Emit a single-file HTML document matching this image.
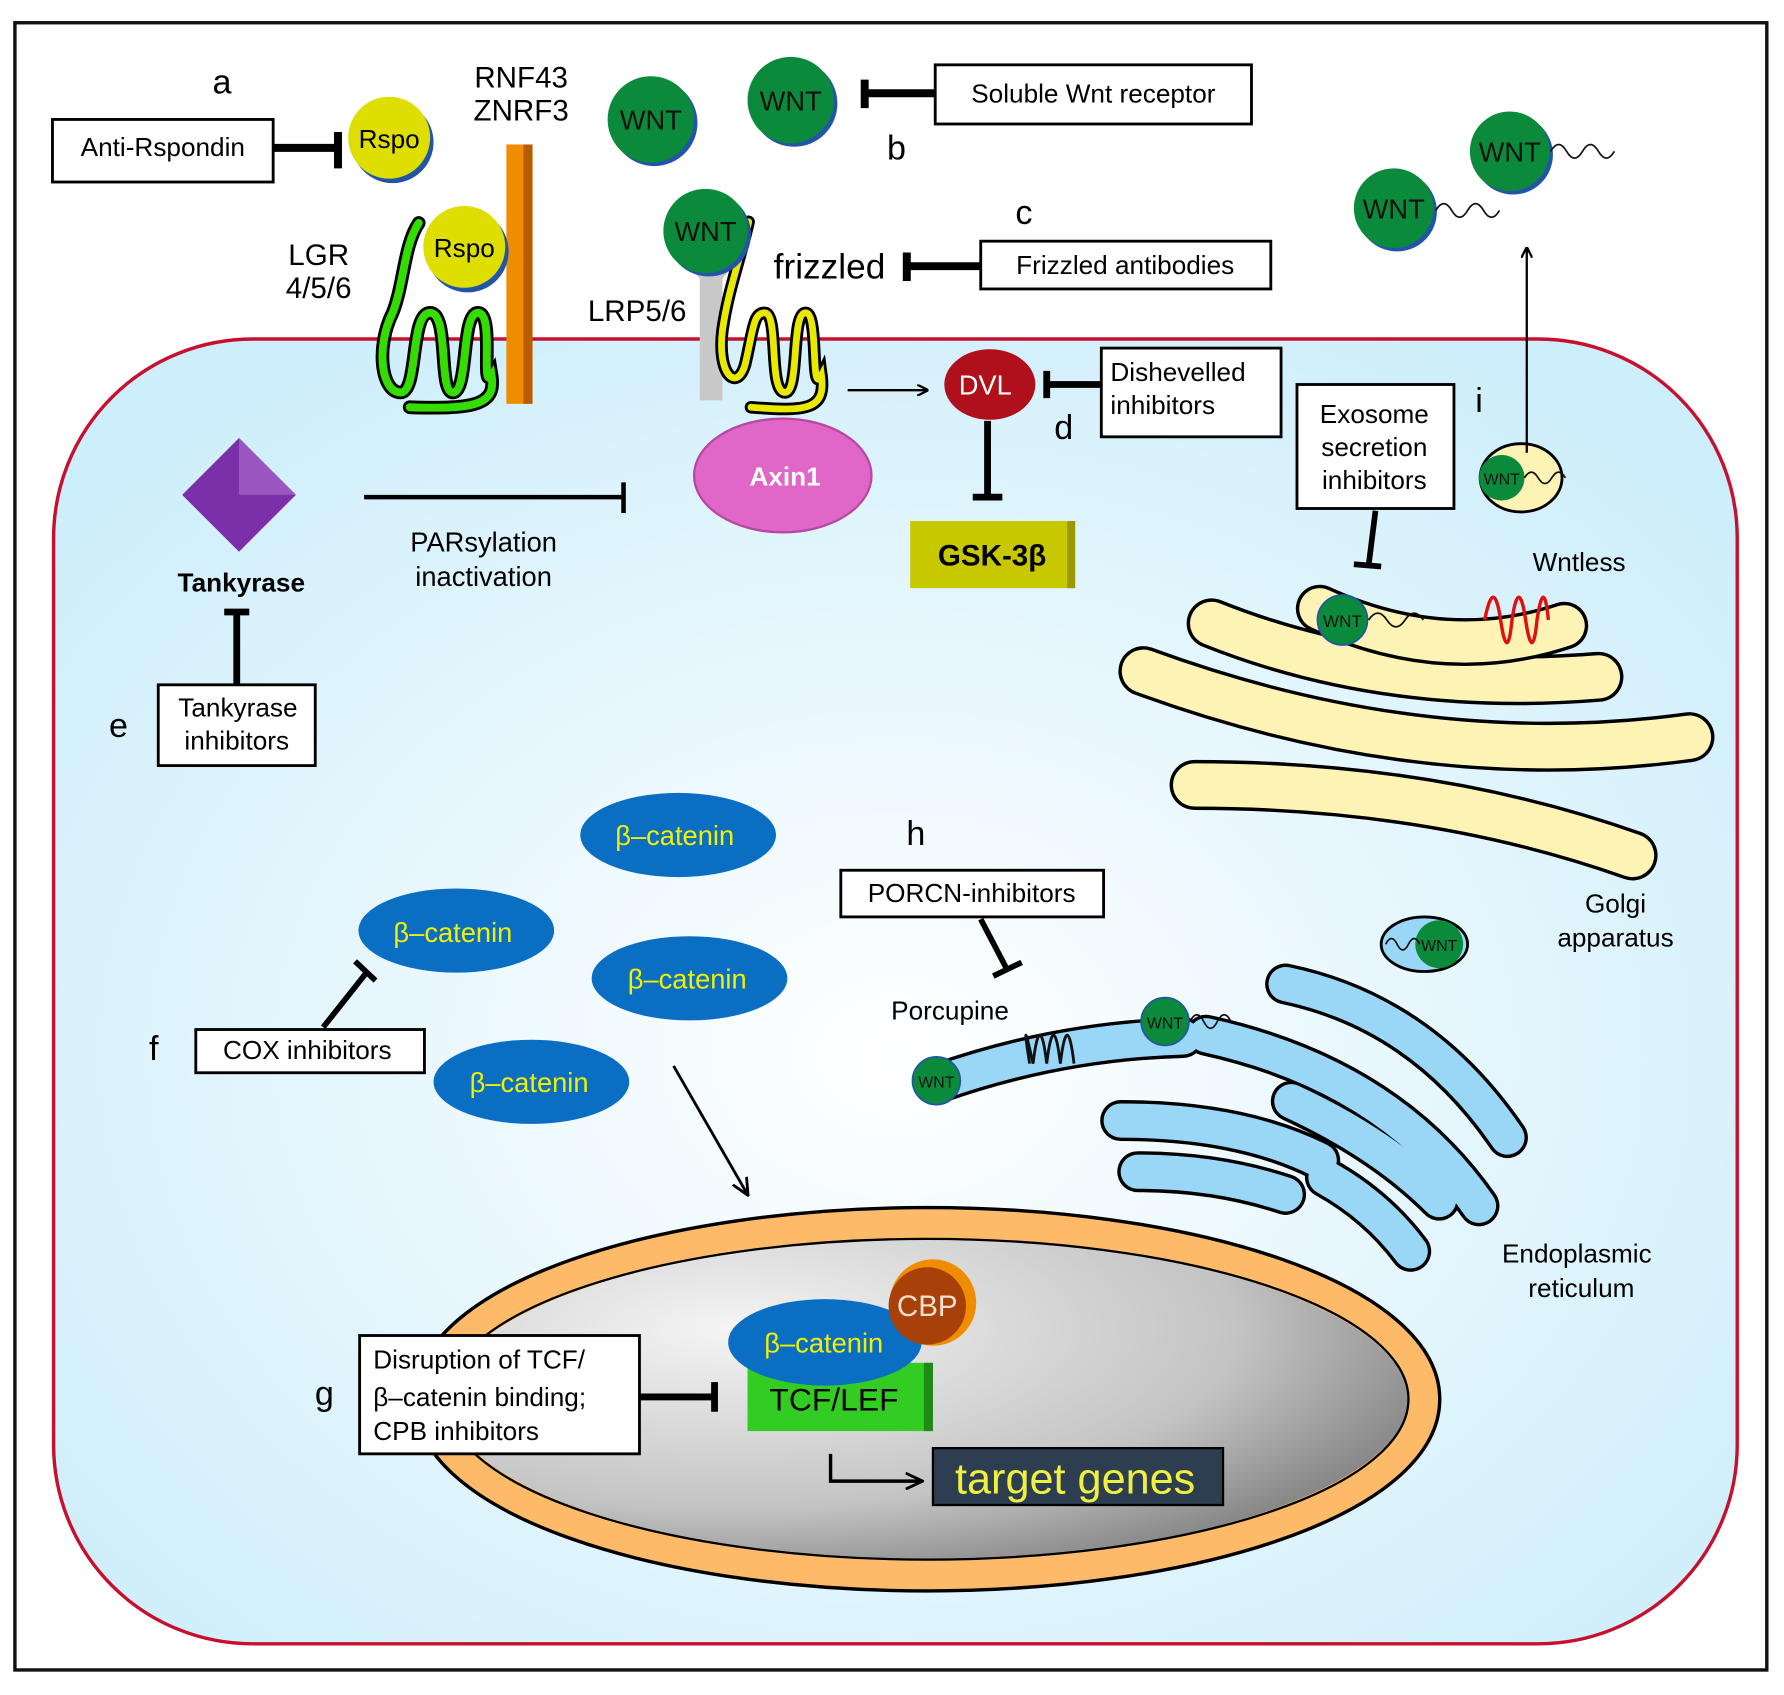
<!DOCTYPE html>
<html><head><meta charset="utf-8"><style>
html,body{margin:0;padding:0;background:#fff}
svg{display:block}
text{font-family:"Liberation Sans",sans-serif}
</style></head><body>
<svg width="1784" height="1695" viewBox="0 0 1568 1490" xmlns="http://www.w3.org/2000/svg">
<defs>
<radialGradient id="cell" cx="0.5" cy="0.55" r="0.65">
<stop offset="0" stop-color="#ffffff"/><stop offset="1" stop-color="#cdeefb"/></radialGradient>
<radialGradient id="nuc" cx="0.3" cy="0.3" r="0.85">
<stop offset="0" stop-color="#f4f4f4"/><stop offset="0.6" stop-color="#c4c4c4"/><stop offset="1" stop-color="#6e6e6e"/></radialGradient>
<marker id="ah" markerWidth="10" markerHeight="10" refX="9" refY="5" orient="auto" markerUnits="userSpaceOnUse"><path d="M0,0 L10,5 L0,10" fill="none" stroke="#000" stroke-width="2"/></marker>
<marker id="ah2" markerWidth="16" markerHeight="16" refX="14" refY="8" orient="auto" markerUnits="userSpaceOnUse"><path d="M0,1 L15,8 L0,15" fill="none" stroke="#000" stroke-width="2.5"/></marker>
</defs>
<rect x="0" y="0" width="1568" height="1490" fill="#fff"/>
<rect x="13" y="20" width="1540" height="1448" fill="#fff" stroke="#111" stroke-width="3"/>
<rect x="47" y="298" width="1480" height="1147" rx="175" ry="175" fill="url(#cell)" stroke="#c8102e" stroke-width="3"/>

<g fill="none" stroke-linecap="round">
<g stroke="#000" stroke-width="44">
<path d="M1005,590 Q1250,680 1485,648"/>
<path d="M1050,690 Q1260,690 1435,752"/>
<path d="M1065,548 Q1220,610 1405,595"/>
</g>
<g stroke="#fdf3b4" stroke-width="38">
<path d="M1005,590 Q1250,680 1485,648"/>
<path d="M1050,690 Q1260,690 1435,752"/>
<path d="M1065,548 Q1220,610 1405,595"/>
</g>
<path d="M1160,535 Q1270,585 1375,550" stroke="#000" stroke-width="42"/>
<path d="M1160,535 Q1270,585 1375,550" stroke="#fdf3b4" stroke-width="36"/>
</g>
<circle cx="1180" cy="545" r="22" fill="#0a8a3a" stroke="#2255aa" stroke-width="1.5"/>
<text x="1180" y="551" font-size="15" text-anchor="middle" fill="#111">WNT</text>
<path d="M1203,545 q8,-12 16,0 q8,12 16,0 q8,-12 16,0" fill="none" stroke="#111" stroke-width="1.5"/>
<path d="M1305,545 q8,-40 14,0 q6,40 10,0 q6,-40 12,0 q6,40 10,0 q6,-40 10,0" fill="none" stroke="#e01010" stroke-width="3"/>

<g fill="none" stroke-linecap="round">
<g stroke="#000" stroke-width="36">
<path d="M825,952 Q930,915 1040,912"/>
<path d="M1130,865 Q1250,890 1325,1000"/>
<path d="M1060,910 Q1220,945 1300,1060"/>
<path d="M1135,968 Q1215,1005 1265,1055"/>
<path d="M985,985 Q1090,985 1160,1020"/>
<path d="M1000,1030 Q1070,1030 1130,1050"/>
<path d="M1165,1035 Q1210,1060 1240,1100"/>
</g>
<g stroke="#9ad7f7" stroke-width="30">
<path d="M825,952 Q930,915 1040,912"/>
<path d="M1130,865 Q1250,890 1325,1000"/>
<path d="M1060,910 Q1220,945 1300,1060"/>
<path d="M1135,968 Q1215,1005 1265,1055"/>
<path d="M985,985 Q1090,985 1160,1020"/>
<path d="M1000,1030 Q1070,1030 1130,1050"/>
<path d="M1165,1035 Q1210,1060 1240,1100"/>
</g>
</g>
<path d="M905,935 q-8,-50 3,0 q6,-50 12,0 q6,-50 12,0 q6,-50 12,0" fill="none" stroke="#111" stroke-width="2.5"/>
<circle cx="823" cy="950" r="21" fill="#0a8a3a" stroke="#2255aa" stroke-width="1.5"/>
<text x="823" y="956" font-size="14" text-anchor="middle" fill="#111">WNT</text>
<circle cx="1024" cy="898" r="21" fill="#0a8a3a" stroke="#2255aa" stroke-width="1.5"/>
<text x="1024" y="904" font-size="14" text-anchor="middle" fill="#111">WNT</text>
<path d="M1046,898 q6,-12 12,0 q6,12 12,0 q6,-12 12,0" fill="none" stroke="#111" stroke-width="1.5"/>
<ellipse cx="1252" cy="830" rx="38" ry="24" fill="#9ad7f7" stroke="#000" stroke-width="2.5"/>
<circle cx="1265" cy="830" r="21" fill="#0a8a3a"/>
<text x="1265" y="836" font-size="14" text-anchor="middle" fill="#111">WNT</text>
<path d="M1218,830 q5,-10 10,0 q5,10 10,0 q5,-10 10,0" fill="none" stroke="#111" stroke-width="1.5"/>

<ellipse cx="815" cy="1230" rx="436" ry="154" fill="none" stroke="#000" stroke-width="32"/>
<ellipse cx="815" cy="1230" rx="436" ry="154" fill="url(#nuc)" stroke="#fdbb6a" stroke-width="26"/>
<ellipse cx="815" cy="1230" rx="423" ry="141" fill="none" stroke="#000" stroke-width="2"/>

<text x="195" y="82" font-size="30" text-anchor="middle">a</text>
<rect x="46" y="105" width="194" height="55" fill="#fff" stroke="#000" stroke-width="2.5"/>
<text x="143" y="137" font-size="23" text-anchor="middle">Anti-Rspondin</text>
<path d="M240,130 H296 M297,116 V148" stroke="#000" stroke-width="7" fill="none"/>
<circle cx="345" cy="125" r="36" fill="#2255aa"/>
<circle cx="342" cy="121" r="36" fill="#dede00"/>
<text x="342" y="130" font-size="23" text-anchor="middle">Rspo</text>
<text x="458" y="77" font-size="26" text-anchor="middle">RNF43</text>
<text x="458" y="106" font-size="26" text-anchor="middle">ZNRF3</text>
<rect x="445" y="127" width="23" height="228" fill="#f08c00"/>
<rect x="460" y="127" width="8" height="228" fill="#b85c00"/>
<text x="280" y="233" font-size="26" text-anchor="middle">LGR</text>
<text x="280" y="262" font-size="26" text-anchor="middle">4/5/6</text>
<path d="M368,196 C355,215 355,250 345,275 C330,305 335,345 352,345 C368,345 360,275 378,275 C395,275 385,345 398,345 C412,345 405,275 420,275 C435,275 422,345 432,330 C436,355 420,360 360,358" fill="none" stroke="#000" stroke-width="12" stroke-linecap="round"/>
<path d="M368,196 C355,215 355,250 345,275 C330,305 335,345 352,345 C368,345 360,275 378,275 C395,275 385,345 398,345 C412,345 405,275 420,275 C435,275 422,345 432,330 C436,355 420,360 360,358" fill="none" stroke="#33dd00" stroke-width="7" stroke-linecap="round"/>
<circle cx="411" cy="221" r="36" fill="#2255aa"/>
<circle cx="408" cy="217" r="36" fill="#dede00"/>
<text x="408" y="226" font-size="23" text-anchor="middle">Rspo</text>

<circle cx="575" cy="108" r="38" fill="#2255aa"/>
<circle cx="572" cy="105" r="38" fill="#0a8a3a"/>
<text x="572" y="114" font-size="24" text-anchor="middle" fill="#111">WNT</text>
<circle cx="698" cy="91" r="38" fill="#2255aa"/>
<circle cx="695" cy="88" r="38" fill="#0a8a3a"/>
<text x="695" y="97" font-size="24" text-anchor="middle" fill="#111">WNT</text>
<text x="788" y="140" font-size="30" text-anchor="middle">b</text>
<path d="M822,82 H762 M760,70 V95" stroke="#000" stroke-width="7" fill="none"/>
<rect x="822" y="57" width="278" height="52" fill="#fff" stroke="#000" stroke-width="2.5"/>
<text x="961" y="90" font-size="23" text-anchor="middle">Soluble Wnt receptor</text>

<text x="560" y="282" font-size="26" text-anchor="middle">LRP5/6</text>
<path d="M598,225 L650,225 L635,245 L635,352 L615,352 L615,245 Z" fill="#c8c8c8"/>
<path d="M658,195 C650,230 640,255 635,290 C630,330 648,345 655,320 C662,290 662,275 672,275 C685,275 675,345 690,345 C703,345 695,275 708,275 C720,275 712,350 722,330 C726,360 710,362 660,358" fill="none" stroke="#000" stroke-width="11" stroke-linecap="round"/>
<path d="M658,195 C650,230 640,255 635,290 C630,330 648,345 655,320 C662,290 662,275 672,275 C685,275 675,345 690,345 C703,345 695,275 708,275 C720,275 712,350 722,330 C726,360 710,362 660,358" fill="none" stroke="#e8e800" stroke-width="6" stroke-linecap="round"/>
<circle cx="623" cy="206" r="37" fill="#2255aa"/>
<circle cx="620" cy="203" r="37" fill="#0a8a3a"/>
<text x="620" y="212" font-size="24" text-anchor="middle" fill="#111">WNT</text>
<text x="680" y="245" font-size="31">frizzled</text>
<text x="900" y="197" font-size="30" text-anchor="middle">c</text>
<path d="M862,234 H798 M797,222 V247" stroke="#000" stroke-width="7" fill="none"/>
<rect x="862" y="212" width="255" height="42" fill="#fff" stroke="#000" stroke-width="2.5"/>
<text x="989" y="241" font-size="23" text-anchor="middle">Frizzled antibodies</text>

<ellipse cx="688" cy="418" rx="78" ry="50" fill="#e066c8" stroke="#b548a0" stroke-width="2"/>
<text x="690" y="427" font-size="23" font-weight="bold" text-anchor="middle" fill="#fff">Axin1</text>
<line x1="745" y1="343" x2="815" y2="343" stroke="#000" stroke-width="2" marker-end="url(#ah)"/>
<ellipse cx="870" cy="338" rx="40" ry="31" fill="#b0101c"/>
<text x="866" y="347" font-size="24" text-anchor="middle" fill="#fff">DVL</text>
<path d="M868,370 V437 M855,437 H881" stroke="#000" stroke-width="6" fill="none"/>
<rect x="800" y="458" width="145" height="59" fill="#c8c800"/>
<rect x="938" y="458" width="7" height="59" fill="#9a9a00"/>
<text x="872" y="497" font-size="26" font-weight="bold" text-anchor="middle">GSK-3β</text>
<path d="M968,338 H920 M920,326 V350" stroke="#000" stroke-width="6" fill="none"/>
<rect x="968" y="306" width="158" height="78" fill="#fff" stroke="#000" stroke-width="2.5"/>
<text x="976" y="335" font-size="23">Dishevelled</text>
<text x="976" y="364" font-size="23">inhibitors</text>
<text x="935" y="386" font-size="30" text-anchor="middle">d</text>

<polygon points="210,385 260,435 210,485 160,435" fill="#7b2fa8"/>
<polygon points="210,385 260,435 210,435" fill="#9a55c0"/>
<text x="212" y="520" font-size="23" font-weight="bold" text-anchor="middle">Tankyrase</text>
<path d="M320,437 H548 M548,424 V451" stroke="#000" stroke-width="4" fill="none"/>
<text x="425" y="485" font-size="24" text-anchor="middle">PARsylation</text>
<text x="425" y="515" font-size="24" text-anchor="middle">inactivation</text>
<path d="M208,602 V538 M197,538 H219" stroke="#000" stroke-width="6" fill="none"/>
<rect x="139" y="602" width="138" height="71" fill="#fff" stroke="#000" stroke-width="2.5"/>
<text x="209" y="630" font-size="23" text-anchor="middle">Tankyrase</text>
<text x="208" y="659" font-size="23" text-anchor="middle">inhibitors</text>
<text x="104" y="648" font-size="30" text-anchor="middle">e</text>

<g font-size="24" fill="#f0f000" text-anchor="middle">
<ellipse cx="596" cy="734" rx="86" ry="37" fill="#0a6fc2"/><text x="593" y="743">β–catenin</text>
<ellipse cx="401" cy="818" rx="86" ry="37" fill="#0a6fc2"/><text x="398" y="828">β–catenin</text>
<ellipse cx="606" cy="860" rx="86" ry="37" fill="#0a6fc2"/><text x="604" y="869">β–catenin</text>
<ellipse cx="467" cy="951" rx="86" ry="37" fill="#0a6fc2"/><text x="465" y="960">β–catenin</text>
</g>
<rect x="172" y="905" width="201" height="38" fill="#fff" stroke="#000" stroke-width="2.5"/>
<text x="270" y="931" font-size="23" text-anchor="middle">COX inhibitors</text>
<text x="135" y="932" font-size="30" text-anchor="middle">f</text>
<path d="M284,903 L322,855 M312,845 L330,862" stroke="#000" stroke-width="5" fill="none"/>
<line x1="592" y1="937" x2="657" y2="1050" stroke="#000" stroke-width="2.5" marker-end="url(#ah2)"/>

<text x="805" y="743" font-size="30" text-anchor="middle">h</text>
<rect x="739" y="765" width="231" height="41" fill="#fff" stroke="#000" stroke-width="2.5"/>
<text x="854" y="793" font-size="23" text-anchor="middle">PORCN-inhibitors</text>
<path d="M862,808 L885,852 M873,858 L898,846" stroke="#000" stroke-width="5" fill="none"/>
<text x="835" y="896" font-size="23" text-anchor="middle">Porcupine</text>

<text x="1300" y="362" font-size="30" text-anchor="middle">i</text>
<rect x="1140" y="338" width="138" height="109" fill="#fff" stroke="#000" stroke-width="2.5"/>
<text x="1208" y="372" font-size="23" text-anchor="middle">Exosome</text>
<text x="1208" y="401" font-size="23" text-anchor="middle">secretion</text>
<text x="1208" y="430" font-size="23" text-anchor="middle">inhibitors</text>
<path d="M1209,449 L1203,497 M1190,496 L1214,498" stroke="#000" stroke-width="5" fill="none"/>
<ellipse cx="1337" cy="420" rx="36" ry="30" fill="#fdf3b4" stroke="#000" stroke-width="2.5"/>
<circle cx="1320" cy="420" r="20" fill="#0a8a3a"/>
<text x="1320" y="426" font-size="14" text-anchor="middle" fill="#111">WNT</text>
<path d="M1340,420 q6,-10 12,0 q6,10 12,0 q6,-10 12,0" fill="none" stroke="#111" stroke-width="1.5"/>
<line x1="1342" y1="398" x2="1342" y2="218" stroke="#000" stroke-width="2" marker-end="url(#ah)"/>
<text x="1388" y="502" font-size="23" text-anchor="middle">Wntless</text>
<text x="1420" y="802" font-size="23" text-anchor="middle">Golgi</text>
<text x="1420" y="832" font-size="23" text-anchor="middle">apparatus</text>
<text x="1386" y="1110" font-size="23" text-anchor="middle">Endoplasmic</text>
<text x="1390" y="1140" font-size="23" text-anchor="middle">reticulum</text>

<circle cx="1330" cy="136" r="35" fill="#2255aa"/>
<circle cx="1327" cy="133" r="35" fill="#0a8a3a"/>
<text x="1327" y="142" font-size="24" text-anchor="middle" fill="#111">WNT</text>
<path d="M1363,133 q7,-12 14,0 q7,12 14,0 q7,-12 14,0 q7,12 14,0" fill="none" stroke="#111" stroke-width="1.5"/>
<circle cx="1228" cy="186" r="35" fill="#2255aa"/>
<circle cx="1225" cy="183" r="35" fill="#0a8a3a"/>
<text x="1225" y="192" font-size="24" text-anchor="middle" fill="#111">WNT</text>
<path d="M1262,185 q7,-12 14,0 q7,12 14,0 q7,-12 14,0 q7,12 14,0" fill="none" stroke="#111" stroke-width="1.5"/>

<text x="285" y="1235" font-size="30" text-anchor="middle">g</text>
<rect x="316" y="1174" width="246" height="104" fill="#fff" stroke="#000" stroke-width="2.5"/>
<text x="328" y="1203" font-size="23">Disruption of TCF/</text>
<text x="328" y="1236" font-size="23">β–catenin binding;</text>
<text x="328" y="1266" font-size="23">CPB inhibitors</text>
<path d="M562,1228 H627 M628,1215 V1241" stroke="#000" stroke-width="6" fill="none"/>
<rect x="657" y="1198" width="163" height="60" fill="#33cc22"/>
<rect x="812" y="1198" width="8" height="60" fill="#1f8a15"/>
<text x="733" y="1240" font-size="28" text-anchor="middle">TCF/LEF</text>
<ellipse cx="725" cy="1180" rx="85" ry="38" fill="#0a6fc2"/>
<text x="724" y="1189" font-size="24" fill="#f0f000" text-anchor="middle">β–catenin</text>
<circle cx="820" cy="1145" r="38" fill="#f08c00"/>
<circle cx="815" cy="1148" r="34" fill="#a8400a"/>
<text x="815" y="1157" font-size="26" fill="#f4e0d0" text-anchor="middle">CBP</text>
<path d="M730,1278 V1302 H810" stroke="#000" stroke-width="3" fill="none" marker-end="url(#ah2)"/>
<rect x="820" y="1273" width="255" height="50" fill="#2c3e50" stroke="#000" stroke-width="2"/>
<text x="945" y="1313" font-size="38" fill="#f0f040" text-anchor="middle">target genes</text>
</svg>
</body></html>
